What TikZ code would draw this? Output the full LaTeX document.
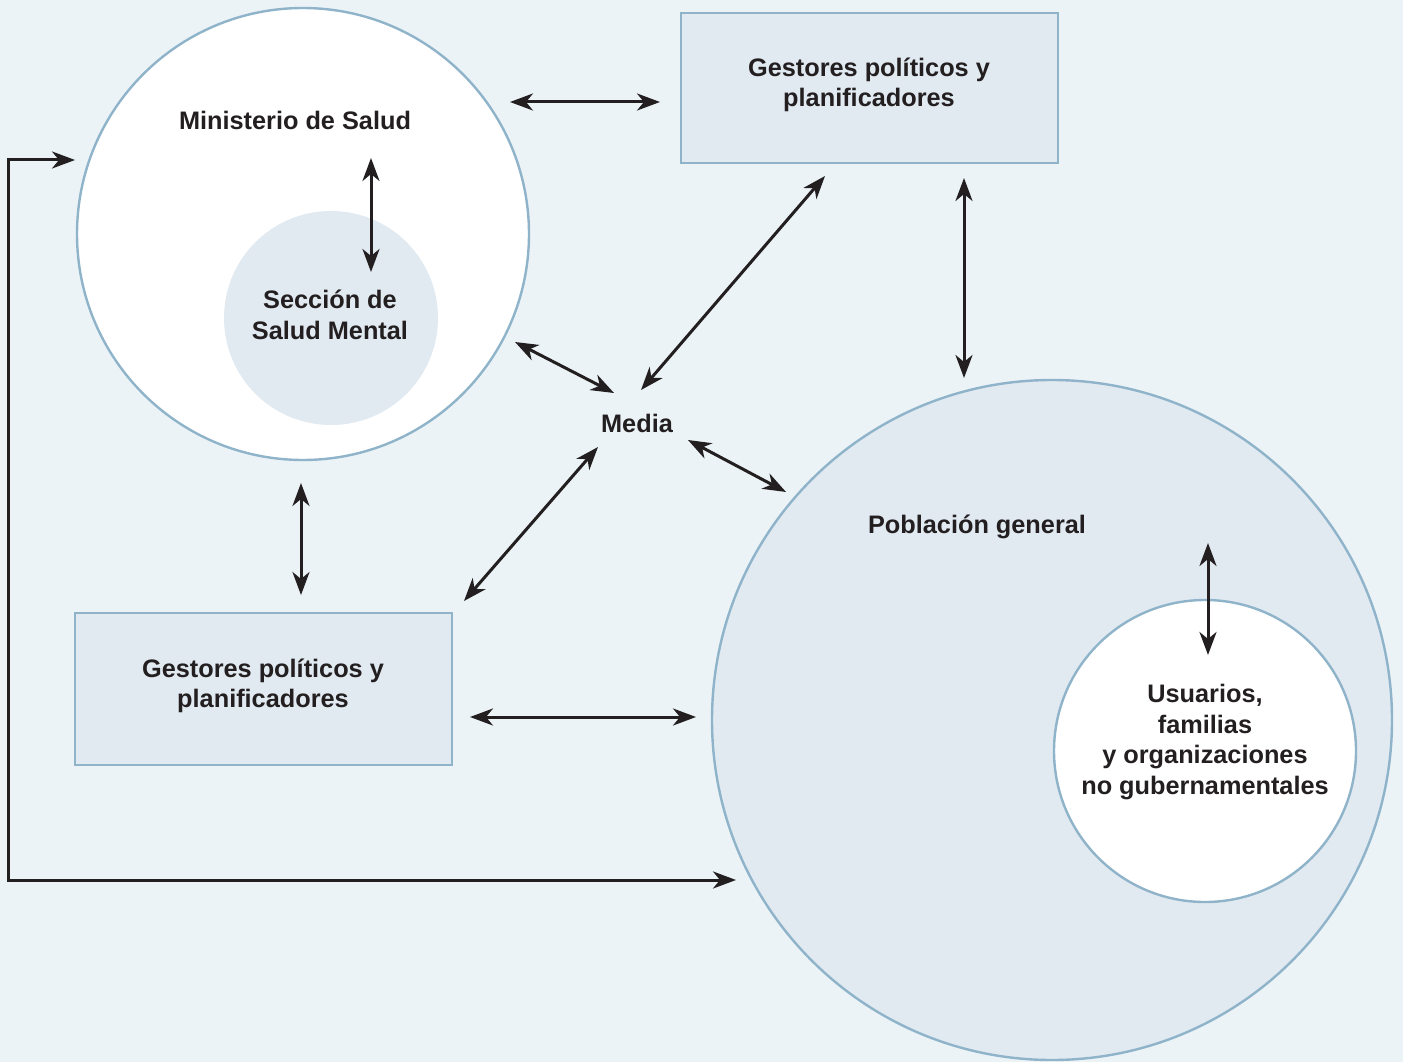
\documentclass[tikz,border=0pt]{standalone}
\usepackage{fontspec}
\setmainfont{Liberation Sans}
\usetikzlibrary{arrows.meta}
\definecolor{bg}{HTML}{EBF3F7}
\definecolor{pale}{HTML}{E1E9F1}
\definecolor{edge}{HTML}{8FB4CA}
\definecolor{ink}{HTML}{231F20}
\tikzset{
  lbl/.style={font=\fontsize{25.3}{30.5}\selectfont\bfseries, text=ink, align=center},
  rim/.style={draw=edge, line width=2.4pt},
  tip/.style={Stealth[length=23pt,width=17pt,inset=7pt]},
  con/.style={draw=ink, line width=3pt, {Stealth[length=23pt,width=17pt,inset=7pt]}-{Stealth[length=23pt,width=17pt,inset=7pt]}},
  one/.style={draw=ink, line width=3pt, -{Stealth[length=23pt,width=17pt,inset=7pt]}},
}
\begin{document}
\begin{tikzpicture}[x=1pt,y=-1pt]
\fill[bg] (0,0) rectangle (1403,1062);
\useasboundingbox (0,0) rectangle (1403,1062);
% shapes
\draw[rim, fill=white] (303,234) circle[radius=226];
\fill[pale] (331,318) circle[radius=107];
\draw[rim, fill=pale] (681,13) rectangle (1058,163);
\draw[rim, fill=pale] (75,613) rectangle (452,765);
\draw[rim, fill=pale] (1052,720) circle[radius=340];
\draw[rim, fill=white] (1205,751) circle[radius=151];
% labels
\node[lbl] (min) at (295,120) {Ministerio de Salud};
\node[lbl] (sec) at (330,315) {Sección de\\Salud Mental};
\node[lbl] (gtop) at (869,85) {Gestores políticos y\\planificadores};
\node[lbl] (gbot) at (263,686) {Gestores políticos y\\planificadores};
\node[lbl] (med) at (637,423) {Media};
\node[lbl] (pob) at (977,527) {Población general};
\node[lbl] (usu) at (1205,742) {Usuarios,\\familias\\y organizaciones\\no gubernamentales};
% connector ends
\coordinate (a1) at (510,102); \coordinate (a2) at (660,102);
\coordinate (b1) at (371,158); \coordinate (b2) at (371,272);
\coordinate (c1) at (964,178); \coordinate (c2) at (964,378);
\coordinate (d1) at (825,176); \coordinate (d2) at (641,390);
\coordinate (e1) at (515,342); \coordinate (e2) at (614,393);
\coordinate (f1) at (688,440); \coordinate (f2) at (786,492);
\coordinate (g1) at (598,447); \coordinate (g2) at (464,601);
\coordinate (h1) at (301,483); \coordinate (h2) at (301,595);
\coordinate (i1) at (470,717); \coordinate (i2) at (696,717);
\coordinate (j1) at (1208,543); \coordinate (j2) at (1208,655);
\coordinate (k0) at (8,160); \coordinate (k1) at (75,160);
\coordinate (k2) at (8,880); \coordinate (k3) at (736,880);
\draw[con] (a1) -- (a2);
\draw[con] (b1) -- (b2);
\draw[con] (c1) -- (c2);
\draw[con] (d1) -- (d2);
\draw[con] (e1) -- (e2);
\draw[con] (f1) -- (f2);
\draw[con] (g1) -- (g2);
\draw[con] (h1) -- (h2);
\draw[con] (i1) -- (i2);
\draw[con] (j1) -- (j2);
\draw[one] (k2) -- (k0) -- (k1);
\draw[one] (k0) -- (k2) -- (k3);
\end{tikzpicture}
\end{document}
